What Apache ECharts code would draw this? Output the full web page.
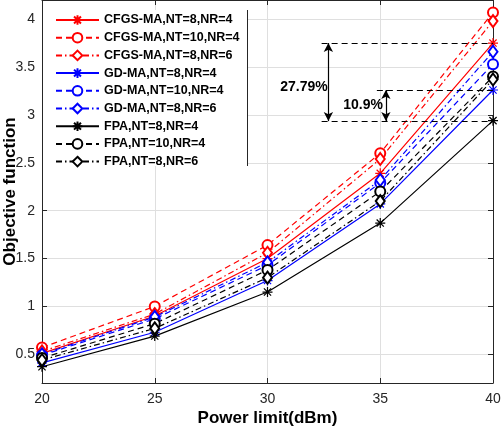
<!DOCTYPE html>
<html>
<head>
<meta charset="utf-8">
<script src="https://cdn.jsdelivr.net/npm/echarts@6/dist/echarts.min.js"></script>
<style>
html,body{margin:0;padding:0;background:#fff;}
#c{width:502px;height:428px;}
</style>
</head>
<body>
<div id="c"></div>
<script>
var powers = [20, 25, 30, 35, 40];

var cfgs84  = [0.51, 0.90, 1.50, 2.39, 3.75];
var cfgs104 = [0.57, 1.00, 1.64, 2.60, 4.07];
var cfgs86  = [0.53, 0.92, 1.56, 2.54, 3.98];
var gd84    = [0.41, 0.73, 1.27, 2.07, 3.26];
var gd104   = [0.49, 0.87, 1.43, 2.29, 3.53];
var gd86    = [0.50, 0.89, 1.46, 2.32, 3.66];
var fpa84   = [0.37, 0.69, 1.15, 1.87, 2.94];
var fpa104  = [0.46, 0.82, 1.38, 2.20, 3.40];
var fpa86   = [0.44, 0.77, 1.30, 2.10, 3.37];

var names = ['CFGS-MA,NT=8,NR=4','CFGS-MA,NT=10,NR=4','CFGS-MA,NT=8,NR=6',
             'GD-MA,NT=8,NR=4','GD-MA,NT=10,NR=4','GD-MA,NT=8,NR=6',
             'FPA,NT=8,NR=4','FPA,NT=10,NR=4','FPA,NT=8,NR=6'];

// annotation values
var annLevels = [3.75, 3.26, 2.935];
var annStartX = [32.4, 34.85, 32.4];
var arrowX = [32.7, 35.25];
var annTexts = ['27.79%', '10.9%'];
var annTextPos = [[31.62, 3.293], [34.24, 3.10]];

var STAR = 'path://M0,-5L0,5M-5,0L5,0M-3.6,-3.6L3.6,3.6M-3.6,3.6L3.6,-3.6';
var DASH = [6, 4];
var DASHDOT = [6, 3, 1.5, 3];

function mk(name, data, color, style, marker) {
  var sym, size;
  if (marker === 'star') { sym = STAR; size = 10; }
  else if (marker === 'circle') { sym = 'emptyCircle'; size = 10; }
  else { sym = 'emptyDiamond'; size = [9, 12]; }
  return {
    name: name, type: 'line',
    data: powers.map(function (p, i) { return [p, data[i]]; }),
    symbol: sym, symbolSize: size, showSymbol: true,
    lineStyle: { color: color, width: 1.2, type: style },
    itemStyle: { color: color, borderColor: color, borderWidth: 1.2 },
    emphasis: { disabled: true },
    z: 3
  };
}

var series = [
  mk(names[0], cfgs84, '#ff0000', 'solid', 'star'),
  mk(names[1], cfgs104, '#ff0000', DASH, 'circle'),
  mk(names[2], cfgs86, '#ff0000', DASHDOT, 'diamond'),
  mk(names[3], gd84, '#0000ff', 'solid', 'star'),
  mk(names[4], gd104, '#0000ff', DASH, 'circle'),
  mk(names[5], gd86, '#0000ff', DASHDOT, 'diamond'),
  mk(names[6], fpa84, '#000000', 'solid', 'star'),
  mk(names[7], fpa104, '#000000', DASH, 'circle'),
  mk(names[8], fpa86, '#000000', DASHDOT, 'diamond')
];

var mlData = [];
for (var i = 0; i < annLevels.length; i++) {
  mlData.push([{ coord: [annStartX[i], annLevels[i]] }, { coord: [40, annLevels[i]] }]);
}
for (var j = 0; j < arrowX.length; j++) {
  mlData.push([
    { coord: [arrowX[j], annLevels[j]], symbol: 'arrow', lineStyle: { type: 'solid' } },
    { coord: [arrowX[j], annLevels[2]], symbol: 'arrow', lineStyle: { type: 'solid' } }
  ]);
}

series.push({
  name: 'ann', type: 'line', data: [],
  markLine: {
    silent: true, symbol: 'none', symbolSize: [7, 9],
    label: { show: false },
    lineStyle: { color: '#000', width: 1.2, type: [6, 4] },
    emphasis: { disabled: true },
    data: mlData
  },
  markPoint: {
    silent: true, symbol: 'circle', symbolSize: 0,
    label: { show: true, formatter: '{b}', color: '#000', fontSize: 14, fontWeight: 'bold', fontFamily: 'Liberation Sans' },
    data: annTexts.map(function (t, k) { return { name: t, coord: annTextPos[k] }; })
  }
});

var chart = echarts.init(document.getElementById('c'), null, { renderer: 'canvas' });
chart.setOption({
  animation: false,
  backgroundColor: '#fff',
  textStyle: { fontFamily: 'Liberation Sans' },
  grid: { left: 42, right: 9, top: 0, bottom: 45, show: false, containLabel: false, outerBoundsMode: 'none' },
  legend: {
    data: names, orient: 'vertical', left: 55, top: 13.5,
    itemWidth: 43, itemHeight: 12, itemGap: 4.7, padding: 0,
    textStyle: { fontSize: 12.5, fontWeight: 'bold', color: '#000', fontFamily: 'Liberation Sans' },
    selectedMode: false, z: 6
  },
  graphic: [
    { type: 'rect', shape: { x: 43, y: 10, width: 204, height: 156 }, style: { fill: '#fff' }, z: 1, silent: true },
    { type: 'line', shape: { x1: 247.5, y1: 10, x2: 247.5, y2: 166 }, style: { stroke: '#262626', lineWidth: 1 }, z: 2, silent: true }
  ],
  xAxis: [{
    type: 'value', min: 20, max: 40, interval: 5, position: 'bottom',
    name: 'Power limit(dBm)', nameLocation: 'middle', nameGap: 27, nameMoveOverlap: false,
    nameTextStyle: { fontSize: 17, fontWeight: 'bold', color: '#000' },
    axisLine: { show: true, lineStyle: { color: '#262626', width: 1 } },
    axisTick: { show: true, inside: true, length: 5, lineStyle: { color: '#262626' } },
    axisLabel: { fontSize: 14, color: '#262626', margin: 9 },
    splitLine: { show: true, lineStyle: { color: '#dfdfdf', width: 1 } }
  }, {
    type: 'value', min: 20, max: 40, interval: 5, position: 'top',
    axisLine: { show: true, onZero: false, lineStyle: { color: '#262626', width: 1 } },
    axisTick: { show: true, inside: true, length: 5, lineStyle: { color: '#262626' } },
    axisLabel: { show: false }, splitLine: { show: false }
  }],
  yAxis: [{
    type: 'value', min: 0.2, max: 4.2, splitNumber: 8, position: 'left',
    name: 'Objective function', nameLocation: 'middle', nameGap: 23, nameMoveOverlap: false,
    nameTextStyle: { fontSize: 17, fontWeight: 'bold', color: '#000' },
    axisLine: { show: true, onZero: false, lineStyle: { color: '#262626', width: 1 } },
    axisTick: { show: true, inside: true, length: 5, lineStyle: { color: '#262626' } },
    axisLabel: { fontSize: 14, color: '#262626', margin: 7, showMinLabel: false, showMaxLabel: false, hideOverlap: false },
    splitLine: { show: true, lineStyle: { color: '#dfdfdf', width: 1 } }
  }, {
    type: 'value', min: 0.2, max: 4.2, splitNumber: 8, position: 'right',
    axisLine: { show: true, onZero: false, lineStyle: { color: '#262626', width: 1 } },
    axisTick: { show: true, inside: true, length: 5, lineStyle: { color: '#262626' } },
    axisLabel: { show: false }, splitLine: { show: false }
  }],
  series: series
});
</script>
</body>
</html>
